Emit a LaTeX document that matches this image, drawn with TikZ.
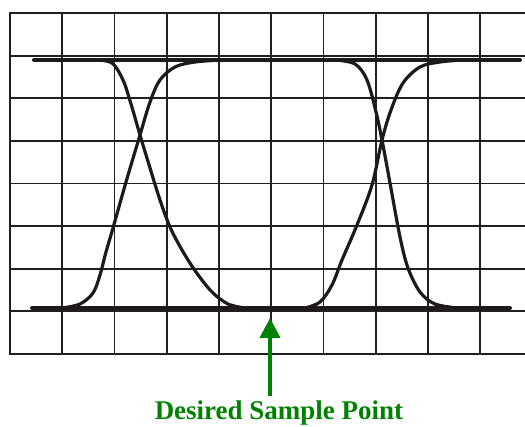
\documentclass[tikz,border=0pt]{standalone}
\usepackage{fontspec}
\setmainfont{Liberation Serif}
\usetikzlibrary{arrows.meta}
\definecolor{gridc}{RGB}{35,31,32}
\definecolor{sig}{RGB}{30,26,27}
\definecolor{arrowgreen}{RGB}{0,130,0}
\tikzset{
  gridline/.style={draw=gridc, line width=1.8pt},
  borderline/.style={draw=gridc, line width=2.4pt},
  signal/.style={draw=sig, line width=4pt, line cap=round},
  trace/.style={draw=sig, line width=3.2pt, line cap=round},
  label/.style={text=arrowgreen, font=\bfseries\fontsize{27}{30}\selectfont, anchor=base},
  greenarrow/.style={draw=arrowgreen, line width=4pt, -{Triangle[length=20pt,width=20pt]}}
}
\begin{document}
\begin{tikzpicture}[x=1pt,y=-1pt]
\useasboundingbox (0,0) rectangle (525,427);
% grid
\foreach \i in {1,...,9} {
  \draw[gridline] ({10+52.25*\i},13) -- ({10+52.25*\i},354);
}
\foreach \j in {1,...,7} {
  \draw[gridline] (10,{13+42.625*\j}) -- (525,{13+42.625*\j});
}
\draw[borderline] (525,13) -- (10,13) -- (10,354) -- (525,354);
% signal levels
\coordinate (tl) at (34,60);
\coordinate (tr) at (520,60);
\coordinate (bl) at (32,308);
\coordinate (br) at (510,308);
\draw[signal] (tl) -- (tr);
\draw[signal] (bl) -- (br);
% left transitions
\draw[trace] plot[smooth, tension=0.55] coordinates {(95,60) (112,63) (123,80) (131,104) (140,135) (150,168) (160,200) (170,227) (182,250) (196,272) (212,292) (228,304) (245,308)};
\draw[trace] plot[smooth, tension=0.55] coordinates {(62,308) (80,304) (93,293) (100,275) (106,252) (113,228) (126,182) (140,135) (150,102) (160,80) (175,67) (195,62) (222,60)};
% right transitions
\draw[trace] plot[smooth, tension=0.55] coordinates {(335,60) (355,64) (367,80) (376,112) (382,140) (390,183) (400,237) (408,268) (420,292) (435,304) (458,308)};
\draw[trace] plot[smooth, tension=0.55] coordinates {(305,308) (320,302) (332,285) (342,260) (357,225) (372,185) (382,140) (391,110) (403,83) (420,67) (440,62) (462,60)};
% arrow and label
\coordinate (tip) at (270,318);
\coordinate (tail) at (270,396);
\draw[greenarrow] (tail) -- (tip);
\node[label, inner sep=0pt] (lbl) at (279,420) {Desired Sample Point};
\end{tikzpicture}
\end{document}
